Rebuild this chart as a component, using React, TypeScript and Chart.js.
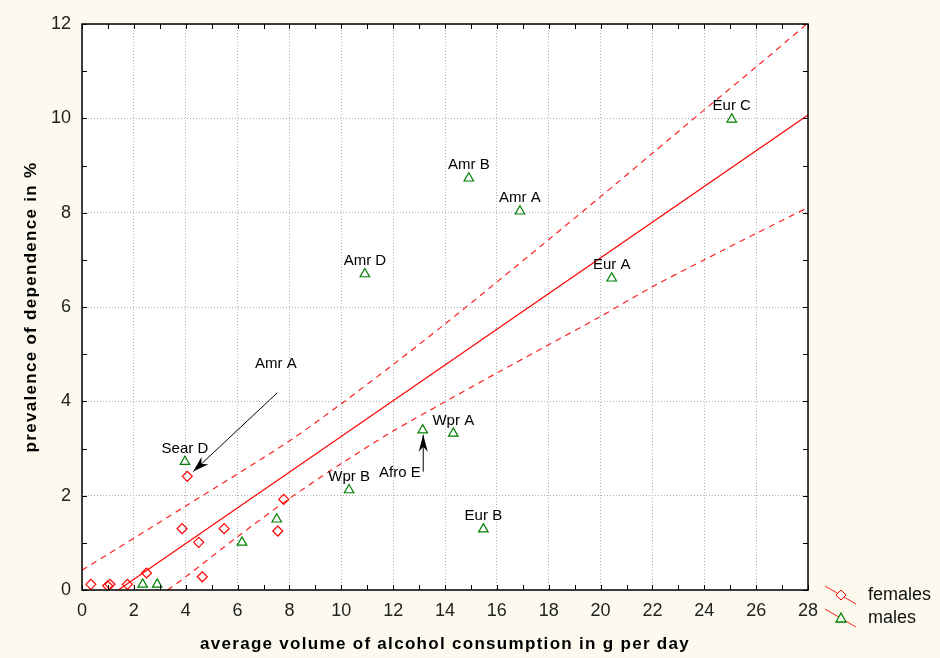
import { useEffect, useRef } from 'react';
import { Chart, registerables } from 'chart.js';

Chart.register(...registerables);

// ---- data ----
const femaleX = [0.34, 0.99, 1.08, 1.75, 2.49, 3.86, 4.06, 4.5, 4.64, 5.48, 7.55, 7.78];
const femaleY = [0.12, 0.09, 0.12, 0.12, 0.36, 1.3, 2.41, 1.01, 0.28, 1.3, 1.25, 1.92];

const maleX = [3.97, 2.34, 2.9, 6.17, 7.51, 10.3, 13.14, 14.32, 15.48, 10.91, 14.92, 16.89, 20.43, 25.06];
const maleY = [2.72, 0.12, 0.12, 1.01, 1.5, 2.12, 3.39, 3.32, 1.29, 6.7, 8.73, 8.03, 6.61, 9.98];
const maleNames = ['Sear D', '', '', '', '', 'Wpr B', '', 'Wpr A', 'Eur B', 'Amr D', 'Amr B', 'Amr A', 'Eur A', 'Eur C'];

const fitX = [1.4, 28];
const fitY = [0, 10.07];

const upperX = [0, 4, 8, 10, 12, 14, 16, 18, 20, 22, 24, 26, 28];
const upperY = [0.42, 1.78, 3.16, 3.95, 4.78, 5.64, 6.53, 7.43, 8.34, 9.26, 10.18, 11.09, 12.02];

const lowerX = [3.3, 4, 6, 8, 10, 12, 14, 16, 18, 20, 22, 24, 26, 28];
const lowerY = [0, 0.28, 1.13, 1.94, 2.68, 3.37, 3.99, 4.6, 5.2, 5.8, 6.43, 7.0, 7.56, 8.11];

// annotations with arrows (text position, arrow start, arrow tip) in data units
const noteTexts = ['Amr A', 'Afro E'];
const noteTextX = [7.48, 12.26];
const noteTextY = [4.79, 2.49];
const arrowFromX = [7.53, 13.16];
const arrowFromY = [4.18, 2.51];
const arrowToX = [4.29, 13.16];
const arrowToY = [2.51, 3.29];

const legendLabels = ['females', 'males'];

const xTitle = 'average volume of alcohol consumption in g per day';
const yTitle = 'prevalence of dependence in %';

const FONT = '"Liberation Sans", Arial, Helvetica, sans-serif';
const CREAM = '#fcfaee';

function pts(xs: number[], ys: number[]) {
  return xs.map((x, i) => ({ x, y: ys[i] }));
}

function drawArrowHead(ctx: CanvasRenderingContext2D, fx: number, fy: number, tx: number, ty: number, len: number, half: number) {
  const ang = Math.atan2(ty - fy, tx - fx);
  const c = Math.cos(ang), s = Math.sin(ang);
  const bx = tx - c * len, by = ty - s * len;
  const nx = tx - c * len * 0.7, ny = ty - s * len * 0.7;
  ctx.beginPath();
  ctx.moveTo(tx, ty);
  ctx.lineTo(bx - s * half, by + c * half);
  ctx.lineTo(nx, ny);
  ctx.lineTo(bx + s * half, by - c * half);
  ctx.closePath();
  ctx.fill();
}

export default function App() {
  const ref = useRef<HTMLCanvasElement>(null);

  useEffect(() => {
    const canvas = ref.current;
    if (!canvas) return;

    const overlay = {
      id: 'overlay',
      beforeDraw(chart: any) {
        const { ctx, chartArea: a } = chart;
        ctx.save();
        ctx.fillStyle = CREAM;
        ctx.fillRect(0, 0, chart.width, chart.height);
        ctx.fillStyle = '#ffffff';
        ctx.fillRect(a.left, a.top, a.right - a.left, a.bottom - a.top);
        ctx.restore();
      },
      afterDraw(chart: any) {
        const { ctx, chartArea: a } = chart;
        const xs = chart.scales.x;
        const ys = chart.scales.y;
        ctx.save();

        // frame
        ctx.strokeStyle = '#000';
        ctx.lineWidth = 1.5;
        ctx.strokeRect(a.left, a.top, a.right - a.left, a.bottom - a.top);

        // minor/major inward ticks on all four sides
        ctx.lineWidth = 1;
        ctx.strokeStyle = '#000';
        ctx.beginPath();
        for (let v = xs.min; v <= xs.max; v += 1) {
          const p = Math.round(xs.getPixelForValue(v)) + 0.5;
          ctx.moveTo(p, a.bottom);
          ctx.lineTo(p, a.bottom - 5);
          ctx.moveTo(p, a.top);
          ctx.lineTo(p, a.top + 5);
        }
        for (let v = ys.min; v <= ys.max; v += 1) {
          const p = Math.round(ys.getPixelForValue(v)) + 0.5;
          ctx.moveTo(a.left, p);
          ctx.lineTo(a.left + 5, p);
          ctx.moveTo(a.right, p);
          ctx.lineTo(a.right - 5, p);
        }
        ctx.stroke();

        // point labels for males
        ctx.fillStyle = '#000';
        ctx.font = `15px ${FONT}`;
        ctx.textAlign = 'center';
        ctx.textBaseline = 'middle';
        maleNames.forEach((n, i) => {
          if (!n) return;
          ctx.fillText(n, xs.getPixelForValue(maleX[i]), ys.getPixelForValue(maleY[i]) - 13);
        });

        // annotations with arrows
        noteTexts.forEach((t, i) => {
          ctx.fillText(t, xs.getPixelForValue(noteTextX[i]), ys.getPixelForValue(noteTextY[i]));
          const fx = xs.getPixelForValue(arrowFromX[i]);
          const fy = ys.getPixelForValue(arrowFromY[i]);
          const tx = xs.getPixelForValue(arrowToX[i]);
          const ty = ys.getPixelForValue(arrowToY[i]);
          ctx.strokeStyle = '#000';
          ctx.lineWidth = 1;
          ctx.beginPath();
          ctx.moveTo(fx, fy);
          ctx.lineTo(tx, ty);
          ctx.stroke();
          if (i === 0) drawArrowHead(ctx, fx, fy, tx, ty, 16, 5);
          else drawArrowHead(ctx, fx, fy, tx, ty, 17, 4.5);
        });

        // axis titles
        ctx.font = `bold 17px ${FONT}`;
        (ctx as any).letterSpacing = '1.3px';
        ctx.textAlign = 'center';
        ctx.textBaseline = 'middle';
        ctx.fillText(xTitle, (a.left + a.right) / 2, 644);
        ctx.save();
        ctx.translate(31, (a.top + a.bottom) / 2);
        ctx.rotate(-Math.PI / 2);
        ctx.fillText(yTitle, 0, 0);
        ctx.restore();
        (ctx as any).letterSpacing = '0px';

        // legend
        const ly = [595, 618];
        ctx.font = `18px ${FONT}`;
        ctx.textAlign = 'left';
        legendLabels.forEach((lab, i) => {
          const cy = ly[i];
          ctx.strokeStyle = '#ff2020';
          ctx.lineWidth = 1;
          ctx.beginPath();
          ctx.moveTo(825, cy - 9);
          ctx.lineTo(856, cy + 9);
          ctx.stroke();
          const mx = 841, my = cy;
          if (i === 0) {
            ctx.fillStyle = '#fff';
            ctx.strokeStyle = '#ff0000';
            ctx.beginPath();
            ctx.moveTo(mx, my - 5);
            ctx.lineTo(mx + 5, my);
            ctx.lineTo(mx, my + 5);
            ctx.lineTo(mx - 5, my);
            ctx.closePath();
            ctx.fill();
            ctx.stroke();
          } else {
            ctx.fillStyle = CREAM;
            ctx.strokeStyle = '#008000';
            ctx.lineWidth = 1.3;
            ctx.beginPath();
            ctx.moveTo(mx, my - 5);
            ctx.lineTo(mx + 5, my + 4);
            ctx.lineTo(mx - 5, my + 4);
            ctx.closePath();
            ctx.fill();
            ctx.stroke();
          }
          ctx.fillStyle = '#111';
          ctx.textBaseline = 'middle';
          ctx.fillText(lab, 868, cy);
        });

        ctx.restore();
      },
    };

    const chart = new Chart(canvas, {
      type: 'scatter',
      data: {
        datasets: [
          {
            label: 'females',
            data: pts(femaleX, femaleY),
            pointStyle: 'rectRot',
            pointRadius: 5,
            borderColor: '#ff0000',
            backgroundColor: 'rgba(255,255,255,0)',
            borderWidth: 1.2,
          },
          {
            label: 'males',
            data: pts(maleX, maleY),
            pointStyle: 'triangle',
            pointRadius: 5.5,
            borderColor: '#008000',
            backgroundColor: 'rgba(255,255,255,0)',
            borderWidth: 1.2,
          },
          {
            label: 'fit',
            type: 'line',
            data: pts(fitX, fitY),
            borderColor: '#ff0000',
            borderWidth: 1.2,
            pointRadius: 0,
            fill: false,
          } as any,
          {
            label: 'upper',
            type: 'line',
            data: pts(upperX, upperY),
            borderColor: '#ff2020',
            borderWidth: 1.2,
            borderDash: [6, 5],
            pointRadius: 0,
            tension: 0.3,
            fill: false,
          } as any,
          {
            label: 'lower',
            type: 'line',
            data: pts(lowerX, lowerY),
            borderColor: '#ff2020',
            borderWidth: 1.2,
            borderDash: [6, 5],
            pointRadius: 0,
            tension: 0.3,
            fill: false,
          } as any,
        ],
      },
      options: {
        responsive: false,
        animation: false,
        events: [],
        layout: { padding: { top: 24, right: 132, left: 0, bottom: 0 } },
        plugins: { legend: { display: false }, tooltip: { enabled: false } },
        scales: {
          x: {
            type: 'linear',
            min: 0,
            max: 28,
            afterFit(s: any) { s.height = 68; },
            ticks: { stepSize: 2, color: '#222', font: { family: FONT, size: 18 }, padding: 10, maxRotation: 0 },
            grid: { color: '#b0b0b0', lineWidth: 1, drawTicks: false },
            border: { display: false, dash: [1, 2] },
          },
          y: {
            type: 'linear',
            min: 0,
            max: 12,
            afterFit(s: any) { s.width = 82; },
            ticks: { stepSize: 2, color: '#222', font: { family: FONT, size: 18 }, padding: 11 },
            grid: { color: '#b0b0b0', lineWidth: 1, drawTicks: false },
            border: { display: false, dash: [1, 2] },
          },
        },
      },
      plugins: [overlay],
    } as any);

    return () => chart.destroy();
  }, []);

  return (
    <div style={{ position: 'absolute', left: 0, top: 0, width: 940, height: 658, background: CREAM }}>
      <canvas ref={ref} width={940} height={658} style={{ display: 'block', width: 940, height: 658 }} />
    </div>
  );
}
